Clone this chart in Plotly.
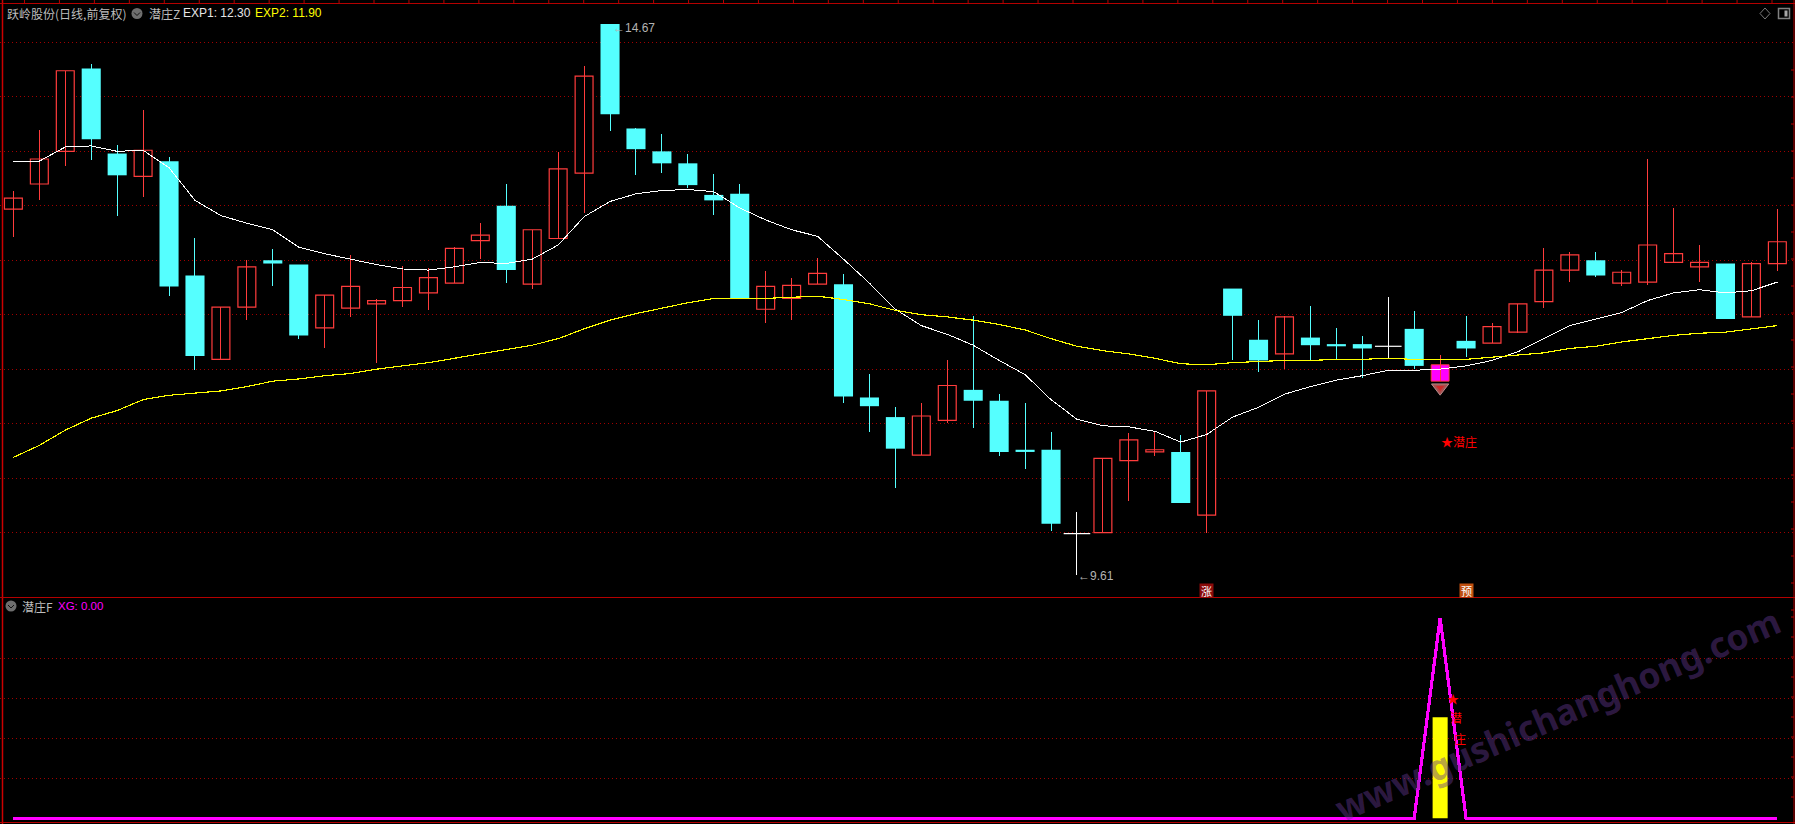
import plotly.graph_objects as go

W, H = 1795, 824

opens = [12.97,13.20,13.50,14.26,13.48,13.27,13.41,12.36,11.59,12.07,12.50,12.46,11.88,12.06,12.10,12.13,12.20,12.29,12.68,13.00,12.28,12.70,13.30,
         14.67,13.71,13.50,13.39,13.10,13.11,12.05,12.15,12.28,12.28,11.24,11.06,10.71,11.03,11.31,11.21,10.76,10.76,9.99,10.00,10.66,10.74,10.74,10.16,
         12.24,11.77,11.64,11.79,11.73,11.73,11.71,11.87,11.39,11.76,11.74,11.84,12.12,12.41,12.50,12.29,12.30,12.48,12.44,12.47,11.98,12.47]
highs = [13.14,13.70,14.24,14.30,13.56,13.88,13.45,12.70,12.07,12.50,12.60,12.46,12.18,12.55,12.14,12.45,12.43,12.62,12.84,13.20,12.78,13.49,14.28,
         14.67,13.71,13.66,13.48,13.29,13.20,12.40,12.34,12.52,12.37,11.46,11.15,11.19,11.58,11.99,11.27,11.19,10.92,10.19,10.68,10.91,10.93,10.90,11.30,
         12.24,11.95,11.99,12.08,11.88,11.80,12.16,12.03,11.63,11.99,11.92,12.10,12.61,12.58,12.58,12.41,13.43,12.98,12.64,12.47,12.48,12.97]
lows = [12.71,13.05,13.37,13.42,12.91,13.08,12.17,11.49,11.58,11.95,12.26,11.78,11.69,11.98,11.56,12.07,12.04,12.29,12.51,12.29,12.24,12.70,12.93,
        13.69,13.28,13.30,13.16,12.92,12.15,11.92,11.95,12.28,11.19,10.92,10.41,10.71,11.01,10.96,10.70,10.58,10.01,9.61,10.00,10.29,10.70,10.27,10.00,
        11.58,11.47,11.50,11.58,11.59,11.42,11.60,11.50,11.39,11.61,11.74,11.83,12.06,12.30,12.35,12.26,12.27,12.48,12.30,11.96,11.98,12.40]
closes = [13.07,13.43,14.24,13.61,13.28,13.51,12.26,11.62,12.07,12.44,12.47,11.81,12.18,12.26,12.13,12.25,12.34,12.61,12.73,12.41,12.78,13.34,14.19,
          13.84,13.52,13.39,13.19,13.05,12.15,12.26,12.27,12.38,11.25,11.16,10.77,11.07,11.35,11.21,10.74,10.74,10.08,9.99,10.68,10.85,10.76,10.27,11.30,
          11.99,11.58,11.98,11.72,11.71,11.69,11.71,11.53,11.54,11.69,11.89,12.10,12.41,12.55,12.36,12.39,12.64,12.56,12.48,11.96,12.47,12.67]
exp1 = [13.41,13.41,13.54,13.55,13.50,13.51,13.35,13.05,12.91,12.84,12.78,12.62,12.56,12.51,12.46,12.42,12.41,12.44,12.48,12.47,12.51,12.64,12.90,
        13.04,13.11,13.14,13.15,13.13,12.98,12.87,12.78,12.72,12.51,12.29,12.05,11.90,11.82,11.72,11.58,11.45,11.22,11.04,10.98,10.97,10.93,10.83,10.90,
        11.06,11.15,11.27,11.34,11.40,11.44,11.49,11.49,11.50,11.53,11.58,11.66,11.78,11.90,11.96,12.02,12.13,12.20,12.23,12.20,12.22,12.30]
exp2 = [10.69,10.80,10.94,11.05,11.12,11.22,11.26,11.28,11.30,11.34,11.39,11.41,11.44,11.46,11.50,11.53,11.56,11.60,11.64,11.68,11.72,11.78,11.87,
        11.95,12.01,12.06,12.11,12.15,12.15,12.15,12.16,12.17,12.14,12.10,12.04,12.00,11.98,11.95,11.91,11.86,11.78,11.71,11.67,11.64,11.60,11.55,11.54,
        11.56,11.57,11.58,11.58,11.59,11.59,11.60,11.59,11.59,11.59,11.61,11.63,11.65,11.69,11.71,11.75,11.78,11.81,11.83,11.84,11.87,11.90]
xg_index = 55
xg_peak = 100
xg_bar = 50.5
price_grid = [14.5, 14.0, 13.5, 13.0, 12.5, 12.0, 11.5, 11.0, 10.5, 10.0]
xg_grid = [20, 40, 60, 80]

n = len(closes)
idx = list(range(n))
xg = [xg_peak if i == xg_index else 0 for i in idx]

RED, CYAN, WHITE = "#ff3c3c", "#55ffff", "#ffffff"
fig = go.Figure()


def wicks(ids, color):
    xs, ys = [], []
    for i in ids:
        xs += [i, i, None]
        ys += [lows[i], highs[i], None]
    fig.add_trace(go.Scatter(x=xs, y=ys, mode="lines", line=dict(color=color, width=1), hoverinfo="skip"))


up = [i for i in idx if closes[i] > opens[i] and i != xg_index]
dn = [i for i in idx if closes[i] < opens[i]]
flat = [i for i in idx if closes[i] == opens[i]]
wicks(dn, CYAN)
wicks(up + [xg_index], RED)
wicks(flat, WHITE)

fig.add_trace(go.Bar(x=dn, base=[closes[i] for i in dn], y=[opens[i] - closes[i] for i in dn],
                     width=0.735, marker=dict(color=CYAN, line=dict(width=0)), hoverinfo="skip"))
fig.add_trace(go.Bar(x=up, base=[opens[i] for i in up], y=[closes[i] - opens[i] for i in up],
                     width=0.69, marker=dict(color="#000000", line=dict(color=RED, width=1.2)), hoverinfo="skip"))
fig.add_trace(go.Scatter(x=flat, y=[closes[i] for i in flat], mode="markers", hoverinfo="skip",
                         marker=dict(symbol="line-ew", size=19, line=dict(color=WHITE, width=1.2))))

fig.add_trace(go.Scatter(x=idx, y=exp1, mode="lines", line=dict(color="#ffffff", width=1), hoverinfo="skip"))
fig.add_trace(go.Scatter(x=idx, y=exp2, mode="lines", line=dict(color="#ffff00", width=1.15), hoverinfo="skip"))

fig.add_trace(go.Bar(x=[xg_index], base=[opens[xg_index]], y=[closes[xg_index] - opens[xg_index]],
                     width=0.69, marker=dict(color="#ff00ff", line=dict(color=RED, width=1)), hoverinfo="skip"))
fig.add_trace(go.Scatter(x=[xg_index, xg_index], y=[11.33, 11.33], mode="markers", hoverinfo="skip",
                         marker=dict(symbol="triangle-down", size=[15, 7], color=["#f47070", "#e01818"],
                                     line=dict(color="#ffc8c8", width=[1, 0]))))

fig.add_trace(go.Bar(x=[xg_index], y=[xg_bar], yaxis="y2", width=0.58,
                     marker=dict(color="#ffff00", line=dict(width=0)), hoverinfo="skip"))
fig.add_trace(go.Scatter(x=idx, y=xg, yaxis="y2", mode="lines", line=dict(color="#ff00ff", width=3.2), hoverinfo="skip"))


def px(x):
    return x / W


def py(y):
    return 1 - y / H


FRAME = "#b40000"
shapes = []


def seg(x0, y0, x1, y1, color=FRAME, width=1):
    shapes.append(dict(type="line", xref="paper", yref="paper", x0=px(x0), y0=py(y0), x1=px(x1), y1=py(y1),
                       line=dict(color=color, width=width)))


seg(2.5, 0, 2.5, H, "#cc0000", 1.5)
seg(1794, 0, 1794, H)
seg(0, 3.5, W, 3.5)
seg(0, 597.5, W, 597.5)
seg(0, 822.5, W, 822.5)
for k in range(51):
    seg(1772 - 34.95 * k, 0, 1772 - 34.95 * k, 3.5)
for k in range(21):
    seg(1791, 70 + 27 * k, 1794, 70 + 27 * k)
for k in range(10):
    seg(1791, 617 + 20 * k, 1794, 617 + 20 * k)

# header icons
for cx, cy in [(137, 13.5), (11, 606)]:
    shapes.append(dict(type="circle", xref="paper", yref="paper", x0=px(cx - 5.5), x1=px(cx + 5.5),
                       y0=py(cy + 5.5), y1=py(cy - 5.5), fillcolor="#6e6e6e", line=dict(width=0)))
    seg(cx - 3, cy - 1, cx, cy + 2, "#111111", 1)
    seg(cx, cy + 2, cx + 3, cy - 1, "#111111", 1)
for a, b, c, d in [(1765, 8, 1770, 13.5), (1770, 13.5, 1765, 19), (1765, 19, 1760, 13.5), (1760, 13.5, 1765, 8)]:
    seg(a, b, c, d, "#7a7a7a", 1)
shapes.append(dict(type="rect", xref="paper", yref="paper", x0=px(1778.5), x1=px(1789.5), y0=py(18.5), y1=py(8.5),
                   line=dict(color="#808080", width=1.5), fillcolor="#000000"))
shapes.append(dict(type="rect", xref="paper", yref="paper", x0=px(1784.5), x1=px(1787.5), y0=py(16.5), y1=py(10.5),
                   line=dict(width=0), fillcolor="#a8a8a8"))

CJK = "Noto Sans CJK SC"
LAT = "Liberation Sans"
ann = []


def label(x, y, text, color, size=12, font=CJK):
    ann.append(dict(xref="paper", yref="paper", x=px(x), y=py(y), text=text, showarrow=False, xanchor="left",
                    yanchor="middle", font=dict(family=font, size=size, color=color)))


label(5, 13, "跃岭股份(日线,前复权)", "#bdbdbd", 12)
label(147, 13, "潜庄Z", "#bdbdbd", 12)
label(181, 13, "EXP1: 12.30", "#e6e6e6", 12, LAT)
label(253, 13, "EXP2: 11.90", "#ffff00", 12, LAT)
label(20, 606, "潜庄F", "#bdbdbd", 12)
label(56, 606, "XG: 0.00", "#ff00ff", 11.5, LAT)

# price extremes
ann.append(dict(x=23, y=max(highs), text="←14.67", showarrow=False, xanchor="left", yanchor="middle", xshift=1, yshift=-4,
                font=dict(family=LAT, size=12, color="#b4b4b4")))
ann.append(dict(x=41, y=min(lows), text="←9.61", showarrow=False, xanchor="left", yanchor="middle", xshift=-1, yshift=-1,
                font=dict(family=LAT, size=12, color="#b4b4b4")))
ann.append(dict(x=xg_index, y=10.84, text="★潜庄", showarrow=False, xanchor="left", yanchor="middle", xshift=-1,
                font=dict(family=CJK, size=12, color="#ff0000")))
ann.append(dict(x=46, y=9.47, text="涨", showarrow=False, bgcolor="#8a0a0a", borderpad=0, width=13, height=13,
                font=dict(family=CJK, size=11, color="#ffffff")))
ann.append(dict(x=56, y=9.47, text="预", showarrow=False, bgcolor="#c05010", borderpad=0, width=13, height=13,
                font=dict(family=CJK, size=11, color="#ffffff")))
for ch, xv, yv in [("★", 55.5, 60), ("潜", 55.63, 50.5), ("庄", 55.78, 40)]:
    ann.append(dict(x=xv, y=yv, yref="y2", text=ch, showarrow=False,
                    font=dict(family=CJK, size=12, color="#ff0000")))

ann.append(dict(xref="paper", yref="paper", x=px(1557), y=py(714), text="<b>www.gushichanghong.com</b>", showarrow=False,
                xanchor="center", yanchor="middle", textangle=-23.5,
                font=dict(family="Noto Sans", size=35.5, color="rgba(100,55,145,0.45)")))

fig.update_layout(
    width=W, height=H, margin=dict(l=0, r=0, t=0, b=0),
    paper_bgcolor="#000000", plot_bgcolor="#000000", showlegend=False, barmode="overlay", hovermode=False,
    xaxis=dict(domain=[0, 1], range=[-0.5166, 68.68], visible=False, fixedrange=True),
    yaxis=dict(domain=[py(597), py(4)], range=[9.408, 14.853], tickvals=price_grid, showticklabels=False,
               showgrid=True, gridcolor="#a00000", griddash="1px,3px", gridwidth=1, zeroline=False, showline=False,
               ticks="", fixedrange=True),
    yaxis2=dict(domain=[py(822), py(598)], range=[-1.85, 110], tickvals=xg_grid, showticklabels=False,
                showgrid=True, gridcolor="#a00000", griddash="1px,3px", gridwidth=1, zeroline=False, showline=False,
                ticks="", fixedrange=True),
    shapes=shapes, annotations=ann,
)

post = ("var s=document.createElement('style');"
        "s.textContent='html,body{margin:0;padding:0;overflow:hidden;background:#000}"
        ".js-line{shape-rendering:crispEdges}';document.head.appendChild(s);")
fig.write_html("out.html", config={"displayModeBar": False}, post_script=post)
